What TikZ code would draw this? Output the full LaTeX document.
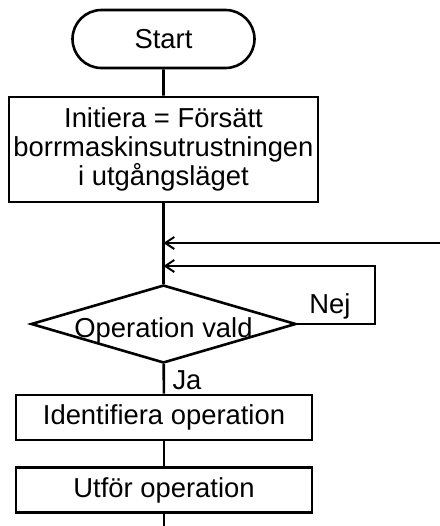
\documentclass[tikz,border=0pt]{standalone}
\usepackage{fontspec}
\setmainfont{Liberation Sans}
\usetikzlibrary{shapes.geometric,shapes.misc,arrows.meta,positioning}

\begin{document}
\begin{tikzpicture}[x=0.5pt, y=-0.5pt,
  term/.style={rounded rectangle, draw, line width=1.3pt, minimum width=91pt, minimum height=29pt, inner sep=0pt},
  proc/.style={rectangle, draw, line width=1.3pt, minimum width=148pt, minimum height=22.5pt, inner sep=0pt, align=center},
  cond/.style={diamond, draw, line width=1.3pt, minimum width=132.5pt, minimum height=39pt, inner sep=0pt},
  flow/.style={line width=1.3pt},
  arrow/.style={line width=1pt, -{Straight Barb[length=4.5pt,width=6pt]}},
  font=\fontsize{13.7}{14.5}\selectfont
]
\useasboundingbox (0,0) rectangle (440,526);

\node[term] (start) at (163.5,39) {Start};

\node[proc, minimum width=154.5pt, minimum height=52.5pt] (init) at (163.5,149.5) {Initiera = Försätt\\borrmaskinsutrustningen\\i utgångsläget};
\draw[flow] (start) -- (init);

\node[cond] (valt) at (163.5,324) {};
\node (valt_txt) at ([yshift=-3pt]valt.center) {Operation vald};
\draw[flow] (init) -- (valt);

% aterhopp fran hoger kant
\coordinate (ret) at (440,243);
\draw[arrow] (ret) -- (valt.north |- ret);

% Nej-slingan
\coordinate (nej) at (375,266);
\draw[arrow] (valt.east) -| (nej) -- (valt.north |- nej);
\node (nej_txt) at (330,306) {Nej};

\node[proc] (ident) at (164,417.5) {Identifiera operation};
\draw[flow] (valt) -- (ident);
\node (ja_txt) at (187,380) {Ja};

\node[proc] (utfor) [below=12.5pt of ident] {Utför operation};
\draw[flow] (ident) -- (utfor);

\coordinate (slut) at (163.5,526);
\draw[flow] (utfor) -- (utfor.south |- slut);

\end{tikzpicture}
\end{document}
